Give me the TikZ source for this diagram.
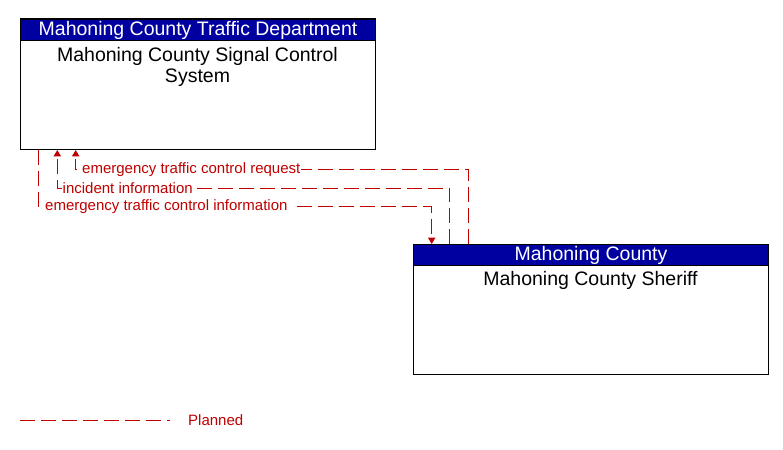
\documentclass[tikz,border=0pt]{standalone}
\usepackage{fontspec}
\setmainfont{Liberation Sans}
\usetikzlibrary{arrows.meta}
\definecolor{hdrblue}{RGB}{0,0,160}
\definecolor{flowred}{RGB}{192,0,0}
\tikzset{
  hdr/.style={draw=black, fill=hdrblue, text=white, line width=1pt, minimum height=21pt, inner sep=0pt, font=\fontsize{19.5}{21}\selectfont},
  body/.style={draw=black, fill=white, line width=1pt, inner sep=0pt},
  bodytxt/.style={font=\fontsize{19.5}{21.5}\selectfont, align=center, inner sep=0pt},
  flow/.style={draw=flowred, line width=1pt, dash pattern=on 15pt off 6pt},
  flowlbl/.style={text=flowred, fill=white, inner sep=1pt, anchor=west, font=\fontsize{15}{17}\selectfont},
  tip/.style={-{Triangle[width=7.5pt,length=6.5pt]}}
}
\begin{document}
\begin{tikzpicture}[x=1pt,y=-1pt]
\useasboundingbox (0,0) rectangle (783,449);
% box 1
\draw[body] (20,19) rectangle (375,150);
\node[hdr, minimum width=355pt, anchor=north west] (h1) at (20,19) {Mahoning County Traffic Department};
\node[bodytxt, anchor=base] (b1) at (197.5,61.7) {Mahoning County Signal Control};
\node[bodytxt, anchor=base] (b1b) at (197.5,82.7) {System};
% box 2
\draw[body] (413,244) rectangle (768,374);
\node[hdr, minimum width=355pt, anchor=north west] (h2) at (413,244) {Mahoning County};
\node[bodytxt, anchor=base] (b2) at (590.5,285.7) {Mahoning County Sheriff};
% coordinates
\coordinate (a1) at (75.7,150);
\coordinate (a2) at (75.7,169.5);
\coordinate (a3) at (468,169.5);
\coordinate (a4) at (468,244);
\coordinate (i1) at (57.3,150);
\coordinate (i2) at (57.3,188);
\coordinate (i3) at (449.5,188);
\coordinate (i4) at (449.5,244);
\coordinate (e1) at (38.3,150);
\coordinate (e2) at (38.3,206.7);
\coordinate (e3) at (431.7,206.7);
\coordinate (e4) at (431.7,244);
% flows
\draw[flow, tip] (a4) -- (a3) -- (a2) -- (a1);
\draw[flow, tip] (i4) -- (i3) -- (i2) -- (i1);
\draw[flow, tip] (e1) -- (e2) -- (e3) -- (e4);
\node[flowlbl] (la) at (76.4,169.5) {\kern4.6pt emergency traffic control request};
\node[flowlbl] (li) at (61.5,188) {incident information};
\node[flowlbl] (le) at (44,206.7) {emergency traffic control information\kern6pt};
% legend
\coordinate (g1) at (20,420);
\coordinate (g2) at (170,420);
\draw[flow] (g1) -- (g2);
\node[text=flowred, anchor=west, inner sep=0pt, font=\fontsize{15}{17}\selectfont] (gl) at (188,420) {Planned};
\end{tikzpicture}
\end{document}
